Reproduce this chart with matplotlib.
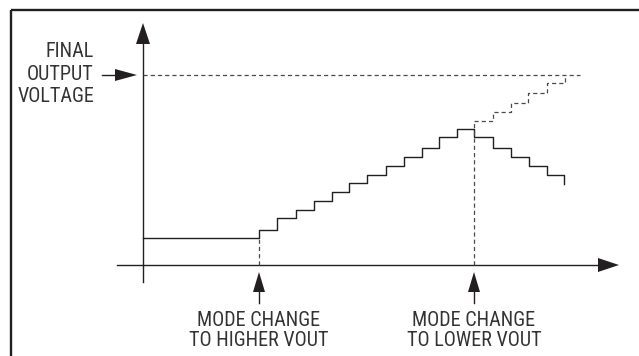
import matplotlib

matplotlib.use("Agg")
import matplotlib.pyplot as plt
import numpy as np

# time axis (t) and output voltage (v), origin at the axes crossing
start_level = 27
rise_edges = [116, 134, 153, 171, 189, 206, 224, 243, 261, 279, 296, 314]
rise_levels = [35, 47, 55, 64, 73, 82, 90, 99, 108, 117, 128, 136]
fall_edges = [331, 350, 368, 386, 404, 421]
fall_levels = [128, 117, 108, 99, 90, 81]
target_edges = [331, 350, 368, 385, 404, 422]
target_levels = [144, 153, 162, 172, 182, 190]
final_v = 190
final_end_t = 437
mode_up_t = 116
mode_down_t = 331
left_label = ["FINAL", "OUTPUT", "VOLTAGE"]
bottom_labels = [("MODE CHANGE", "TO HIGHER VOUT"), ("MODE CHANGE", "TO LOWER VOUT")]

INK = "#231f20"
GREY = "#4a4a4a"
FONT = ["Roboto Condensed", "DejaVu Sans"]
FS = 14.5

plt.rcParams["lines.scale_dashes"] = False
fig = plt.figure(figsize=(6.39, 3.56), dpi=100)
ax = fig.add_axes([0, 0, 1, 1])
ax.set_xlim(-143, 496)
ax.set_ylim(-91, 265)
ax.axis("off")


def arrowhead(tip, direction, length=21, width=13):
    tip = np.array(tip, float)
    d = np.array(direction, float)
    n = np.array([-d[1], d[0]])
    base = tip - d * length
    pts = [tip, base + n * width / 2, base - n * width / 2]
    ax.fill(*zip(*pts), color=INK, lw=0, zorder=5)


def label(x, y, s, ha):
    ax.text(x, y, s, ha=ha, va="baseline", fontsize=FS, family=FONT, color="#333333")


# frame (top and left edges only)
ax.plot([-132, 496], [255, 255], color=INK, lw=1.7, solid_capstyle="butt")
ax.plot([-132, -132], [255, -91], color=INK, lw=1.7, solid_capstyle="butt")

# axes
ax.plot([0, 0], [-17, 225], color=INK, lw=1.0)
arrowhead((0, 242), (0, 1), width=14)
ax.plot([-26, 460], [0, 0], color=INK, lw=1.0)
arrowhead((476, 0), (1, 0), width=14)

# final output voltage level
ax.plot([0, final_end_t], [final_v, final_v], color=GREY, lw=0.9, dashes=(3.0, 2.2))
ax.plot([-41, -20], [final_v, final_v], color=INK, lw=1.0)
arrowhead((-6, final_v), (1, 0), length=22, width=12)
for i, line in enumerate(left_label):
    label(-49, 208 - 22.5 * i, line, "right")

# output voltage steps
solid_t = [0] + rise_edges + fall_edges
solid_v = [start_level] + rise_levels + fall_levels
ax.step(solid_t, solid_v, where="post", color=INK, lw=1.0)
ax.step(target_edges, target_levels, where="post", color=GREY, lw=0.9, dashes=(3.0, 2.2))

# mode change markers
for t, top, (l1, l2) in zip([mode_up_t, mode_down_t], [start_level, target_levels[0]], bottom_labels):
    ax.plot([t, t], [0, top], color=GREY, lw=0.9, dashes=(3.0, 2.2))
    ax.plot([t, t], [-38, -22], color=INK, lw=1.0)
    arrowhead((t, -7), (0, 1), length=20, width=12)
    label(t, -61, l1, "center")
    label(t, -81, l2, "center")

fig.savefig("out.png", dpi=100)
